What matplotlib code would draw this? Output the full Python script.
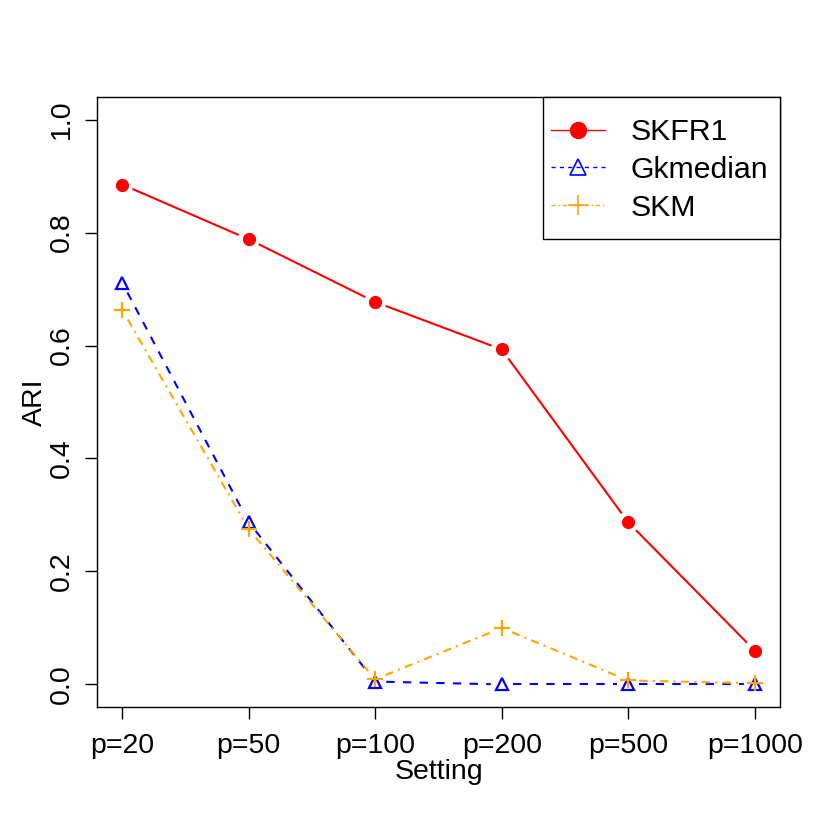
import matplotlib
matplotlib.use("Agg")
import numpy as np
import matplotlib.pyplot as plt
from matplotlib.lines import Line2D
from matplotlib.patches import Rectangle

settings = ["p=20", "p=50", "p=100", "p=200", "p=500", "p=1000"]
skfr1 = [0.885, 0.788, 0.677, 0.593, 0.287, 0.060]
gkmedian = [0.711, 0.287, 0.005, 0.000, 0.000, 0.000]
skm = [0.663, 0.275, 0.009, 0.100, 0.007, 0.002]
yticks = [0.0, 0.2, 0.4, 0.6, 0.8, 1.0]

plt.rcParams['font.family'] = ['Liberation Sans', 'DejaVu Sans']

fig = plt.figure(figsize=(8.3, 8.3), dpi=100)
ax = fig.add_axes([97/830, 1-707/830, (780-97)/830, (707-97)/830])
x = list(range(1, len(settings)+1))

ax.set_xlim(0.8, 6.2)
ax.set_ylim(-0.04, 1.04)


def type_b(xs, ys, gap_px, **kw):
    """R type='b': line segments with gaps around the points."""
    pts = ax.transData.transform(np.column_stack([xs, ys]))
    inv = ax.transData.inverted()
    for p, q in zip(pts[:-1], pts[1:]):
        d = q - p
        L = np.hypot(*d)
        if L <= 2 * gap_px:
            continue
        u = d / L
        a = inv.transform(p + u * gap_px)
        b = inv.transform(q - u * gap_px)
        ax.plot([a[0], b[0]], [a[1], b[1]], **kw)


gap = 11
type_b(x, skfr1, gap, color='red', lw=1.5, solid_capstyle='butt')
type_b(x, gkmedian, gap, color='blue', lw=1.5, dashes=(4, 4), dash_capstyle='butt')
type_b(x, skm, gap, color='orange', lw=1.5, dashes=(4, 2.5, 1, 2.5), dash_capstyle='butt')
ax.plot(x, skfr1, ls='none', marker='o', ms=8.5, mec='red', mfc='red')
ax.plot(x, gkmedian, ls='none', marker='^', ms=8.5, mfc='none', mec='blue', mew=1.6)
ax.plot(x, skm, ls='none', marker='+', ms=12, mec='orange', mew=1.6)

ax.set_xticks(x)
ax.set_xticklabels(settings)
ax.set_yticks(yticks)
ax.set_yticklabels([f"{v:.1f}" for v in yticks], rotation=90, va='center')
ax.tick_params(axis='x', labelsize=20.5, length=8.6, width=1, direction='out', pad=9.8)
ax.tick_params(axis='y', labelsize=20.5, length=8.6, width=1, direction='out', pad=7.6)
for s in ax.spines.values():
    s.set_linewidth(1)
ax.set_xlabel("Setting", fontsize=20.5, labelpad=0.5)
ax.set_ylabel("ARI", fontsize=20.5, labelpad=0.4)

# legend box (R style: wider vertical padding)
bx0, by0 = (543-97)/683, (707-239)/610
ax.add_patch(Rectangle((bx0, by0), 1-bx0, 1-by0, transform=ax.transAxes,
                       facecolor='white', edgecolor='black', lw=1, zorder=4, clip_on=False))

handles = [
    Line2D([], [], color='red', lw=1, marker='o', ms=11.5, mfc='red', mec='red'),
    Line2D([], [], color='blue', lw=1, dashes=(3, 3), marker='^', ms=11, mfc='none', mec='blue', mew=1.2),
    Line2D([], [], color='orange', lw=1, dashes=(3, 2, 1, 2), marker='+', ms=14, mec='orange', mew=1.2),
]
leg = ax.legend(handles, ["SKFR1", "Gkmedian", "SKM"], loc='center',
                bbox_to_anchor=((bx0 + 1)/2 - 2/683, (by0 + 1)/2 - 2/610),
                fontsize=21.8, frameon=False, borderaxespad=0,
                handlelength=1.78, handletextpad=0.86, borderpad=0, labelspacing=0.32)
leg.set_zorder(5)

fig.savefig("out.png", dpi=100, facecolor='white')
